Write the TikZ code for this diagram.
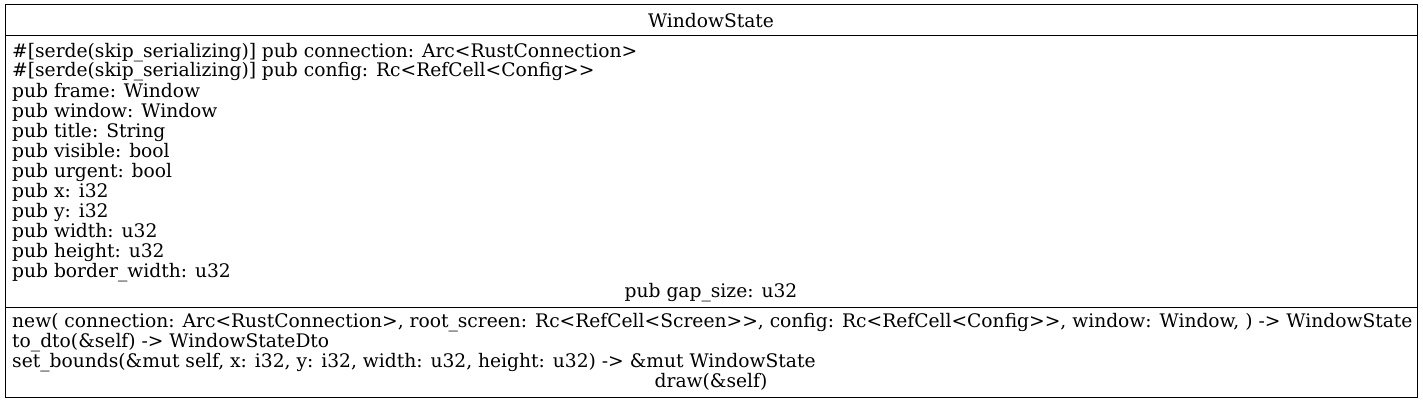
\documentclass[tikz,border=0pt]{standalone}
\usepackage{fontspec}
\setmainfont{DejaVu Serif}
\usetikzlibrary{positioning}
\begin{document}
\begin{tikzpicture}[x=1pt,y=-1pt,
classbox/.style={draw,line width=1pt,minimum width=1412pt,minimum height=392pt,inner sep=0pt},
row/.style={anchor=base west,inner sep=0pt,font=\fontsize{18.67}{20}\selectfont},
crow/.style={anchor=base,inner sep=0pt,font=\fontsize{18.67}{20}\selectfont}
]
\useasboundingbox (0,0) rectangle (1423,404);
\node[classbox] (cls) at (711,201) {};
\coordinate (s1) at (5,36);
\coordinate (s2) at (5,307);
\draw[line width=1pt] (s1) -- (s1 -| cls.east);
\draw[line width=1pt] (s2) -- (s2 -| cls.east);
\node[crow] (title) at (711,27.5) {WindowState};
% fields
\foreach \t [count=\i from 0] in {
  {\#[serde(skip\_serializing)] pub connection: Arc<RustConnection>},
  {\#[serde(skip\_serializing)] pub config: Rc<RefCell<Config>{}>},
  {pub frame: Window},{pub window: Window},{pub title: String},
  {pub visible: bool},{pub urgent: bool},{pub x: i32},{pub y: i32},
  {pub width: u32},{pub height: u32},{pub border\_width: u32}}
  \node[row] (f\i) at (12,{57+20*\i}) {\t};
\node[crow] (gap) at (711,297) {pub gap\_size: u32};
% methods
\foreach \t [count=\i from 0] in {
  {new( connection: Arc<RustConnection>, root\_screen: Rc<RefCell<Screen>{}>, config: Rc<RefCell<Config>{}>, window: Window, ) -> WindowState},
  {to\_dto(\&self) -> WindowStateDto},
  {set\_bounds(\&mut self, x: i32, y: i32, width: u32, height: u32) -> \&mut WindowState}}
  \node[row] (m\i) at (12,{327.5+20*\i}) {\t};
\node[crow] (drw) at (711,387.5) {draw(\&self)};
\end{tikzpicture}
\end{document}
